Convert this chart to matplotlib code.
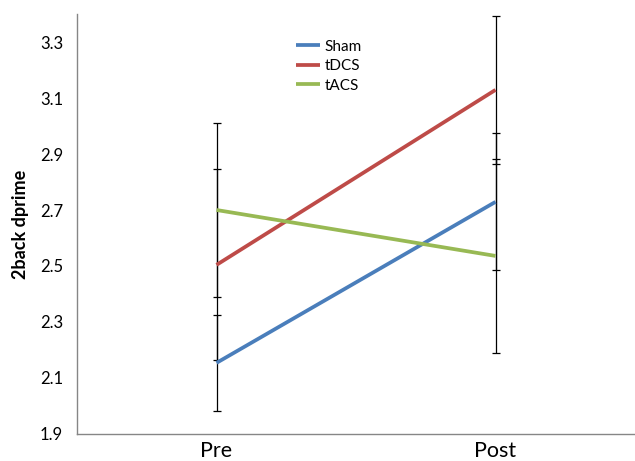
import matplotlib.pyplot as plt

# 2-back d' before and after stimulation, by group
sessions = ['Pre', 'Post']
groups = ['Sham', 'tDCS', 'tACS']
sham = [2.154, 2.729]
tdcs = [2.504, 3.129]
tacs = [2.700, 2.536]
sham_err = [0.172, 0.245]
tdcs_err = [0.341, 0.264]
tacs_err = [0.312, 0.347]

colors = ['#4a7ebb', '#be4b48', '#98b954']

plt.rcParams['font.family'] = ['Lato', 'DejaVu Sans']

fig = plt.figure(figsize=(6.35, 4.61), dpi=100)
ax = fig.add_axes([0.1213, 0.0586, 0.8787, 0.911])

x = list(range(len(sessions)))
series = [sham, tdcs, tacs]
errors = [sham_err, tdcs_err, tacs_err]

# error bars underneath the lines
for vals, err in zip(series, errors):
    ax.errorbar(x, vals, yerr=err, fmt='none', ecolor='black',
                elinewidth=0.9, capsize=3, capthick=0.9, zorder=1)

for vals, name, c in zip(series, groups, colors):
    ax.plot(x, vals, color=c, linewidth=2.7, label=name, zorder=2,
            solid_capstyle='butt')

ax.set_xlim(-0.5, 1.5)
ax.set_ylim(1.9, 3.4)
ax.set_yticks([1.9, 2.1, 2.3, 2.5, 2.7, 2.9, 3.1, 3.3])
ax.set_yticklabels(['1.9', '2.1', '2.3', '2.5', '2.7', '2.9', '3.1', '3.3'])
ax.set_xticks(x)
ax.set_xticklabels(sessions, fontsize=15.5)
ax.tick_params(axis='y', labelsize=12, length=0, pad=10)
ax.tick_params(axis='x', length=0, pad=5)
ax.set_ylabel('2back dprime', fontsize=13, fontweight='bold', labelpad=8)

for side in ['top', 'right']:
    ax.spines[side].set_visible(False)
for side in ['left', 'bottom']:
    ax.spines[side].set_color('#868686')
    ax.spines[side].set_linewidth(1)

ax.legend(loc='upper left', bbox_to_anchor=(0.457, 0.927),
          bbox_transform=fig.transFigure, frameon=False, fontsize=11,
          handlelength=1.55, handletextpad=0.3, labelspacing=0.36,
          borderaxespad=0)

fig.savefig('out.png', dpi=100)
